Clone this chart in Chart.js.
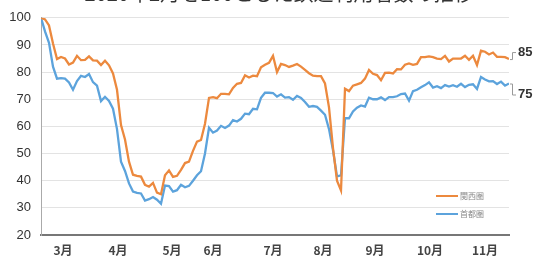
<!DOCTYPE html>
<html>
<head>
<meta charset="utf-8">
<script src="https://cdn.jsdelivr.net/npm/chart.js@4"></script>
<style>
  html, body { margin: 0; padding: 0; background: #fff; }
  #wrap { position: relative; width: 533px; height: 258px; }
</style>
</head>
<body>
<div id="wrap"><canvas id="chart"></canvas></div>
<script>
// 2020年2月 = 100 とした指数（日次をおおよそ読み取り）
const titleText = '2020年2月を100とした鉄道利用者数の推移';
const seriesNames = ['関西圏', '首都圏'];

const kansai = [
  100, 99.4, 97.2, 90.5, 84.8, 85.6, 85, 82.8, 83.5, 86,
  84.4, 84.5, 85.8, 84.3, 84.2, 82.6, 84.2, 82.5, 79.5, 73.5,
  60.5, 55.2, 47, 42.2, 41.8, 41.5, 38.5, 37.8, 39.2, 35.6,
  35, 42, 43.8, 41.4, 41.8, 44, 46.5, 47, 51, 54.4,
  55, 61, 70.5, 70.8, 70.4, 72, 72, 71.8, 74.2, 75.7,
  76, 78.8, 78, 78.7, 78.5, 81.8, 82.7, 83.4, 86, 80,
  83, 82.6, 81.9, 82.4, 83, 82, 80.8, 79.6, 78.7, 78.5,
  78.5, 75.8, 67, 52, 40, 36.4, 73.9, 73, 75, 75.5,
  76, 77.6, 80.8, 79.4, 78.9, 77, 79.7, 79.8, 79.5, 81.1,
  81, 82.7, 83.2, 82.7, 83, 85.5, 85.5, 85.8, 85.5, 85,
  84.8, 86, 83.9, 85, 85, 85, 86, 84.5, 86, 82.6,
  87.9, 87.5, 86.5, 87.2, 85.6, 85.6, 85.5, 84.8
];

const shutoken = [
  100, 95, 90.8, 82, 77.6, 77.8, 77.6, 76.2, 73.5, 76.7,
  78.6, 78.2, 79.3, 76.3, 75, 69.3, 70.9, 69.4, 66.5, 59,
  47, 43.6, 39, 36, 35.5, 35.3, 32.7, 33.2, 34, 33,
  31.5, 38.2, 38, 36, 36.5, 38.5, 37.6, 38.1, 40, 42,
  43.5, 50, 59.5, 57.7, 58.5, 60.2, 59.4, 60.3, 62.3, 61.8,
  62.8, 64.7, 64.5, 66.5, 66.3, 70.5, 72.4, 72.4, 72.3, 71,
  71.8, 70.6, 70.8, 69.8, 71.2, 70.5, 69, 67.2, 67.5, 67.2,
  65.8, 64.3, 59, 51.2, 41.6, 42, 63, 63, 65.5, 66.9,
  67.7, 67.3, 70.6, 70, 70, 70.7, 69.7, 70.8, 70.8, 71.1,
  71.9, 72.1, 69.5, 73, 73.5, 74.4, 75.2, 76.2, 74.3, 74.8,
  74.1, 75.2, 74.7, 75.2, 74.6, 75.7, 74.5, 75.3, 75.5, 73.8,
  78.2, 77.3, 76.6, 76.7, 75.6, 76.5, 75, 75.8
];

const monthLabels = ['3月', '4月', '5月', '6月', '7月', '8月', '9月', '10月', '11月'];
const monthPos = [5.5, 19.25, 32.75, 43, 58, 70.5, 83.5, 97.25, 111];
const endLabels = ['85', '75'];

const colors = ['rgb(236, 137, 62)', 'rgb(92, 163, 220)'];

function toPoints(arr) {
    return arr.map(function(v, i) { return { x: i, y: v }; });
}

// タイトル（上端で切れている）
const titlePlugin = {
    id: 'titlePlugin',
    afterDraw(chart) {
        const ctx = chart.ctx;
        ctx.save();
        ctx.font = '20px "Noto Sans CJK JP"';
        ctx.fillStyle = '#333';
        ctx.textAlign = 'center';
        ctx.textBaseline = 'alphabetic';
        ctx.fillText(titleText, 279, 0.5);
        ctx.restore();
    }
};

// 右端の 85 / 75 表示
const endMarks = {
    id: 'endMarks',
    afterDatasetsDraw(chart) {
        const ctx = chart.ctx;
        const xs = chart.scales.x, ys = chart.scales.y;
        const offsets = [-7, 11];
        ctx.save();
        chart.data.datasets.forEach(function(ds, k) {
            const last = ds.data[ds.data.length - 1];
            const px = xs.getPixelForValue(last.x) + 3;
            const py = ys.getPixelForValue(last.y);
            const ty = py + offsets[k];
            ctx.strokeStyle = '#999';
            ctx.lineWidth = 1;
            ctx.beginPath();
            ctx.moveTo(px - 2, py + 0.5);
            ctx.lineTo(px + 0.5, py + 0.5);
            ctx.lineTo(px + 0.5, ty + 0.5);
            ctx.lineTo(px + 4, ty + 0.5);
            ctx.stroke();
            ctx.fillStyle = '#333';
            ctx.font = 'bold 13px "Liberation Sans"';
            ctx.textBaseline = 'middle';
            ctx.textAlign = 'left';
            ctx.fillText(endLabels[k], px + 6, ty);
        });
        ctx.restore();
    }
};

// 凡例（グラフ内右下）
const innerLegend = {
    id: 'innerLegend',
    afterDraw(chart) {
        const ctx = chart.ctx;
        const rows = [196, 214];
        ctx.save();
        chart.data.datasets.forEach(function(ds, k) {
            ctx.strokeStyle = ds.borderColor;
            ctx.lineWidth = 2;
            ctx.beginPath();
            ctx.moveTo(436, rows[k]);
            ctx.lineTo(458, rows[k]);
            ctx.stroke();
            ctx.fillStyle = '#888';
            ctx.font = '8px "Noto Sans CJK JP"';
            ctx.textBaseline = 'middle';
            ctx.fillText(ds.label, 460, rows[k]);
        });
        ctx.restore();
    }
};

const ctx = document.getElementById('chart').getContext('2d');
const chart = new Chart(ctx, {
    type: 'line',
    data: {
        datasets: [
            {
                label: seriesNames[0],
                data: toPoints(kansai),
                borderColor: colors[0],
                borderWidth: 2.3,
                pointRadius: 0,
                tension: 0,
                fill: false
            },
            {
                label: seriesNames[1],
                data: toPoints(shutoken),
                borderColor: colors[1],
                borderWidth: 2.3,
                pointRadius: 0,
                tension: 0,
                fill: false
            }
        ]
    },
    options: {
        responsive: true,
        maintainAspectRatio: false,
        animation: false,
        layout: { padding: { top: 15, right: 24, left: 0, bottom: 0 } },
        plugins: {
            legend: { display: false },
            tooltip: { enabled: false }
        },
        scales: {
            x: {
                type: 'linear',
                min: 0,
                max: kansai.length - 1,
                afterBuildTicks: function(s) {
                    s.ticks = monthPos.map(function(v) { return { value: v }; });
                },
                afterFit: function(s) { s.height = 23; },
                ticks: {
                    autoSkip: false,
                    maxRotation: 0,
                    padding: 8,
                    color: '#444',
                    font: { family: '"Noto Sans CJK JP"', size: 12, weight: 'bold' },
                    callback: function(value, index) { return monthLabels[index]; }
                },
                grid: { display: false, drawTicks: false },
                border: { color: '#777', width: 2 }
            },
            y: {
                min: 20,
                max: 100,
                afterFit: function(s) { s.width = 41; },
                ticks: {
                    stepSize: 10,
                    padding: 10,
                    color: '#333',
                    font: { family: '"Liberation Sans"', size: 13 }
                },
                grid: { color: '#e3e3e3', drawTicks: false },
                border: { color: '#aaa', width: 1 }
            }
        }
    },
    plugins: [titlePlugin, endMarks, innerLegend]
});
</script>
</body>
</html>
